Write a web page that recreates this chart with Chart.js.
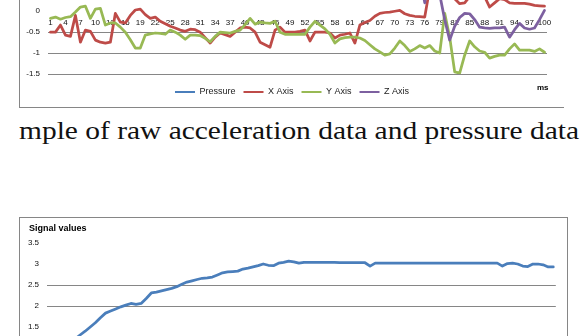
<!DOCTYPE html>
<html>
<head>
<meta charset="utf-8">
<script src="https://cdn.jsdelivr.net/npm/chart.js@4.4.1/dist/chart.umd.min.js"></script>
<style>
html,body{margin:0;padding:0;width:586px;height:336px;overflow:hidden;background:#fff;}
body{position:relative;}
#topBox{position:absolute;left:19px;top:-148px;width:544px;height:255px;border-left:1px solid #868686;border-bottom:1px solid #868686;}
#botBox{position:absolute;left:19px;top:217px;width:547px;height:200px;border:1px solid #868686;}
canvas{position:absolute;left:0;top:0;}
#ms{position:absolute;left:537px;top:83px;font:bold 8px "Liberation Sans",Arial,sans-serif;line-height:10px;color:#000;}
#sig{position:absolute;left:29px;top:223px;font:bold 9px "Liberation Sans",Arial,sans-serif;line-height:11px;color:#000;}
#cap{position:absolute;left:19px;top:116px;font:26px "Liberation Serif","Times New Roman",serif;line-height:30px;white-space:nowrap;color:#111;transform-origin:0 0;}
</style>
</head>
<body>
<div id="topBox"><canvas id="c1" width="544" height="255"></canvas></div>
<div id="ms">ms</div>
<div id="cap">mple of raw acceleration data and pressure data</div>
<div id="botBox"><canvas id="c2" width="547" height="200"></canvas></div>
<div id="sig">Signal values</div>
<script>
// ---- data ----
const categories = Array.from({length: 100}, (_, i) => String(i + 1));
const seriesNames = ['Pressure', 'X Axis', 'Y Axis', 'Z Axis'];

const pressure = [
  0.78, 0.86, 0.95, 1.03, 1.12, 1.21, 1.31, 1.40, 1.50, 1.60,
  1.72, 1.83, 1.88, 1.93, 1.98, 2.02, 2.06, 2.04, 2.06, 2.18,
  2.31, 2.33, 2.36, 2.39, 2.42, 2.46, 2.52, 2.57, 2.60, 2.63,
  2.66, 2.67, 2.69, 2.74, 2.79, 2.81, 2.82, 2.83, 2.88, 2.90,
  2.93, 2.96, 3.00, 2.97, 2.96, 3.02, 3.04, 3.07, 3.05, 3.02,
  3.04, 3.04, 3.04, 3.04, 3.04, 3.04, 3.04, 3.03, 3.03, 3.03,
  3.03, 3.03, 3.03, 2.95, 3.02, 3.02, 3.02, 3.02, 3.02, 3.02,
  3.02, 3.02, 3.02, 3.02, 3.02, 3.02, 3.02, 3.02, 3.02, 3.02,
  3.02, 3.02, 3.02, 3.02, 3.02, 3.02, 3.02, 3.02, 3.02, 2.95,
  3.01, 3.02, 3.00, 2.95, 2.94, 3.00, 3.00, 2.98, 2.93, 2.93
];
const xAxis = [
  -0.50, -0.50, -0.33, -0.57, -0.60, -0.10, -0.74, -0.45, -0.48, -0.69,
  -0.74, -0.76, -0.74, -0.05, -0.26, -0.28, -0.10, 0.03, 0.05, -0.08,
  -0.17, -0.14, -0.24, -0.30, -0.36, -0.40, -0.45, -0.48, -0.43, -0.44,
  -0.50, -0.63, -0.76, -0.62, -0.52, -0.56, -0.60, -0.50, -0.40, -0.38,
  -0.40, -0.50, -0.74, -0.80, -0.86, -0.45, -0.38, -0.50, -0.50, -0.50,
  -0.48, -0.45, -0.71, -0.50, -0.50, -0.50, -0.52, -0.64, -0.57, -0.55,
  -0.52, -0.76, -0.33, -0.27, -0.22, -0.12, -0.05, -0.03, -0.02, 0.00,
  0.02, -0.06, -0.10, -0.12, -0.13, -0.14, 0.55, 0.80, 0.45, 0.60,
  0.40, 0.30, 0.18, 0.20, 0.35, 0.40, 0.38, 0.35, 0.10, 0.20,
  0.30, 0.28, 0.20, 0.19, 0.19, 0.19, 0.17, 0.14, 0.13, 0.12
];
const yAxis = [
  -0.17, -0.14, -0.19, -0.15, -0.13, -0.02, 0.10, 0.12, -0.17, 0.05,
  0.07, -0.33, -0.28, -0.28, -0.38, -0.50, -0.68, -0.88, -0.88, -0.57,
  -0.54, -0.52, -0.53, -0.55, -0.45, -0.50, -0.57, -0.67, -0.57, -0.57,
  -0.58, -0.65, -0.73, -0.60, -0.50, -0.51, -0.52, -0.48, -0.45, -0.32,
  -0.17, -0.31, -0.26, -0.28, -0.29, -0.24, -0.50, -0.55, -0.55, -0.55,
  -0.55, -0.55, -0.38, -0.24, -0.33, -0.42, -0.55, -0.76, -0.66, -0.63,
  -0.62, -0.62, -0.64, -0.70, -0.80, -0.90, -0.97, -1.05, -1.02, -0.88,
  -0.71, -0.82, -0.96, -0.90, -0.82, -0.88, -0.82, -0.95, -1.00, -0.05,
  -0.62, -1.45, -1.48, -1.05, -0.71, -0.85, -0.95, -0.98, -1.12, -1.08,
  -1.05, -1.05, -0.90, -0.78, -0.93, -0.93, -0.93, -0.96, -0.90, -0.98
];
const zAxis = [
  0.98, 0.96, 1.00, 0.97, 0.95, 1.02, 0.93, 0.99, 1.01, 0.96,
  0.94, 0.98, 1.00, 0.97, 0.95, 0.99, 1.02, 0.98, 0.96, 0.97,
  0.99, 1.00, 0.98, 0.96, 0.97, 0.99, 0.98, 0.97, 0.99, 1.00,
  0.98, 0.96, 0.97, 0.99, 0.98, 0.97, 0.99, 0.98, 0.96, 0.97,
  0.99, 0.98, 0.97, 0.98, 0.99, 0.97, 0.98, 0.99, 0.98, 0.97,
  0.98, 0.99, 0.97, 0.96, 0.98, 0.99, 0.97, 0.98, 0.99, 0.97,
  0.98, 0.96, 0.97, 0.99, 0.98, 0.97, 0.95, 0.96, 0.98, 0.97,
  0.96, 0.97, 0.95, 0.93, 0.90, 0.20, 1.20, 1.60, 0.40, -0.20,
  -0.69, -0.36, -0.15, -0.05, -0.06, -0.20, -0.38, -0.40, -0.41, -0.40,
  -0.40, -0.38, -0.62, -0.44, -0.29, -0.40, -0.43, -0.40, -0.20, 0.02
];
const topTickValues = {min: -1.5, max: 3.5, step: 0.5};
const botTickValues = {min: 0, max: 3.5, step: 0.5};
const topVisibleGrid = [-0.5, -1, -1.5];
const botVisibleGrid = [2, 2.5];

// ---- styles ----
const colors = ['#4A7EBB', '#BE4B48', '#98B954', '#7D60A0'];
const gridColor = '#868686';
const txt = '#111';
const fam = '"Liberation Sans", Arial, sans-serif';
const fmt = v => String(Math.round(v * 10) / 10);

function lineDs(label, data, color, order) {
  return {label, data, borderColor: color, backgroundColor: color, borderWidth: 2.75,
    pointRadius: 0, pointHoverRadius: 0, tension: 0, fill: false,
    borderJoinStyle: 'round', borderCapStyle: 'round', order};
}

new Chart(document.getElementById('c1'), {
  type: 'line',
  data: {
    labels: categories,
    datasets: [
      lineDs(seriesNames[0], pressure, colors[0], 4),
      lineDs(seriesNames[1], xAxis, colors[1], 3),
      lineDs(seriesNames[2], yAxis, colors[2], 2),
      lineDs(seriesNames[3], zAxis, colors[3], 1)
    ]
  },
  options: {
    responsive: false, animation: false, devicePixelRatio: 1,
    events: [],
    layout: {padding: {left: 0, right: 0, top: 10, bottom: 0.5}},
    plugins: {
      tooltip: {enabled: false},
      legend: {
        position: 'bottom',
        title: {display: true, text: '', font: {size: 1, lineHeight: 1}, padding: {top: 4.5, bottom: 0}},
        labels: {
          boxWidth: 20, boxHeight: 2, padding: 8, color: '#222',
          font: {family: fam, size: 9},
          sort: (a, b) => a.datasetIndex - b.datasetIndex,
          generateLabels: (chart) => {
            const items = Chart.defaults.plugins.legend.labels.generateLabels(chart);
            items.forEach(it => { it.fillStyle = it.strokeStyle; it.lineWidth = 0; });
            return items;
          }
        }
      }
    },
    scales: {
      x: {
        type: 'category', offset: true, position: {y: 0},
        grid: {display: false, drawTicks: false}, border: {display: false},
        ticks: {autoSkip: false, maxRotation: 0, minRotation: 0, padding: 7, color: txt,
          font: {family: fam, size: 8},
          callback: (v, i) => (i % 3 === 0 ? categories[i] : '')}
      },
      y: {
        min: topTickValues.min, max: topTickValues.max,
        afterFit: s => { s.width = 28; },
        grid: {drawTicks: false, color: c => topVisibleGrid.includes(c.tick.value) ? gridColor : 'rgba(0,0,0,0)', lineWidth: 1},
        border: {display: false},
        ticks: {stepSize: topTickValues.step, padding: 8, color: txt, font: {family: fam, size: 8}, callback: fmt}
      },
      yr: {
        position: 'right', display: true,
        afterFit: s => { s.width = 17; },
        grid: {display: false, drawTicks: false}, border: {display: false},
        ticks: {display: false}
      }
    }
  }
});

new Chart(document.getElementById('c2'), {
  type: 'line',
  data: {
    labels: categories,
    datasets: [lineDs(seriesNames[0], pressure, colors[0], 1)]
  },
  options: {
    responsive: false, animation: false, devicePixelRatio: 1,
    events: [],
    layout: {padding: {left: 0, right: 9, top: 25, bottom: 28}},
    plugins: {tooltip: {enabled: false}, legend: {display: false}},
    scales: {
      x: {
        type: 'category', offset: true, position: {y: 0},
        grid: {display: false, drawTicks: false}, border: {display: false},
        ticks: {autoSkip: false, maxRotation: 0, minRotation: 0, padding: 7, color: txt,
          font: {family: fam, size: 8},
          callback: (v, i) => (i % 3 === 0 ? categories[i] : '')}
      },
      y: {
        min: botTickValues.min, max: botTickValues.max,
        afterFit: s => { s.width = 27; },
        grid: {drawTicks: false, color: c => botVisibleGrid.includes(c.tick.value) ? gridColor : 'rgba(0,0,0,0)', lineWidth: 1},
        border: {display: false},
        ticks: {stepSize: botTickValues.step, padding: 8, color: txt, font: {family: fam, size: 8}, callback: fmt}
      }
    }
  }
});

// fit caption width (Computer Modern is wider than Times)
const cap = document.getElementById('cap');
const cw = cap.getBoundingClientRect().width;
cap.style.transform = 'scaleX(' + (560 / cw) + ')';
</script>
</body>
</html>
